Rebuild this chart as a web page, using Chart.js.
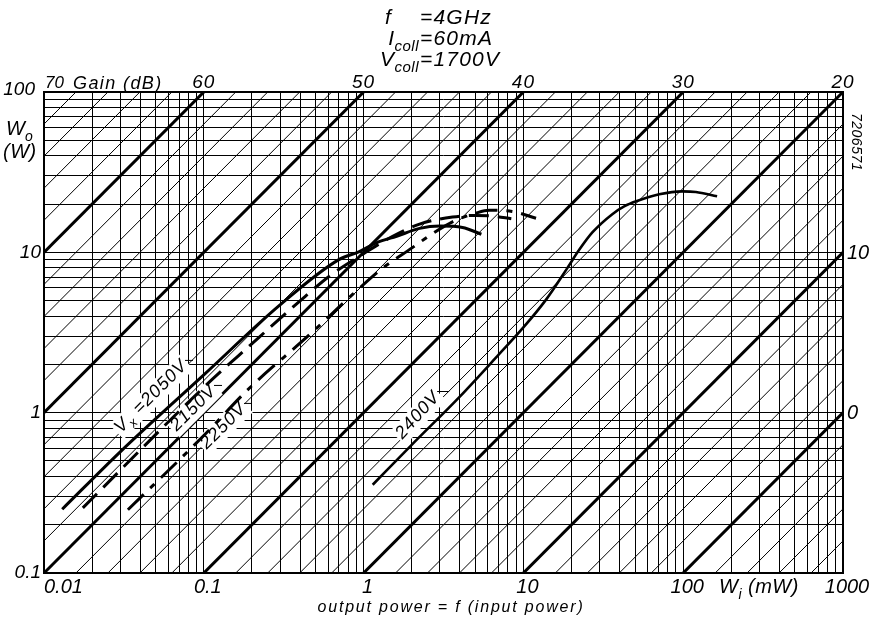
<!DOCTYPE html>
<html>
<head>
<meta charset="utf-8">
<script src="https://cdn.jsdelivr.net/npm/chart.js@4.4.1/dist/chart.umd.min.js"></script>
<style>
  html, body { margin: 0; padding: 0; background: #fff; }
</style>
</head>
<body>
<canvas id="gainChart" width="879" height="620"></canvas>
<script>
// input power Wi (mW) and output power Wo (W)
const wi2050 = [0.013, 0.03, 0.1, 0.3, 0.7, 0.94, 1.21, 1.61, 2.24, 3.0, 4.16, 5.46];
const wo2050 = [0.25, 0.57, 1.72, 4.7, 9.0, 10.1, 11.5, 12.6, 14.1, 14.6, 14.3, 12.96];

const wi2150 = [0.0175, 0.1045, 0.194, 0.43, 0.61, 1.0, 1.5, 2.24, 3.6, 5.0, 6.5, 8.4];
const wo2150 = [0.255, 1.5, 2.62, 5.3, 7.1, 9.8, 12.5, 15.0, 16.6, 17.0, 16.8, 16.2];

const wi2250 = [0.0335, 0.1, 0.194, 0.46, 0.853, 1.3, 2.02, 2.66, 3.6, 5.0, 6.1, 8.5, 12.0];
const wo2250 = [0.248, 0.72, 1.43, 3.07, 5.46, 7.9, 10.7, 12.96, 15.5, 17.5, 18.3, 18.0, 16.3];

const wi2400 = [1.14, 2, 4, 7, 10, 13.9, 18.6, 22.4, 27.0, 36.0, 43.0, 50.8, 70.8, 98.6, 120, 163];
const wo2400 = [0.355, 0.63, 1.26, 2.3, 3.4, 5.09, 7.83, 10.4, 13.3, 17.3, 19.4, 20.8, 23.0, 24.0, 23.8, 22.4];

// axes
const wiTicks = [0.01, 0.1, 1, 10, 100, 1000];
const wiTickLabels = ['0.01', '0.1', '1', '10', '100', '1000'];
const gainTopLabels = ['70', '60', '50', '40', '30', '20'];   // gain where the top edge meets each decade
const woTicks = [0.1, 1, 10, 100];
const woTickLabels = ['0.1', '1', '10', '100'];
const gainRightTicks = [1, 10];
const gainRightLabels = ['0', '10'];

// constant gain lines (dB), every 2 dB, heavy every 10 dB
const gainMin = -8, gainMax = 70, gainStep = 2;

const gridSteps = [1, 2, 3, 4, 5, 6, 7, 8, 9];
const xGrid = [0.01, 0.1, 1, 10, 100].flatMap(d => gridSteps.map(s => +(d * s).toPrecision(3))).concat([1000]);
const yGrid = [0.1, 1, 10].flatMap(d => gridSteps.map(s => +(d * s).toPrecision(3))).concat([100]);

const FONT = '"Liberation Sans", Arial, sans-serif';

function pts(xs, ys) {
    return xs.map((x, i) => ({ x: x, y: ys[i] }));
}

function setFont(ctx, size, spacing) {
    ctx.font = 'italic ' + size + 'px ' + FONT;
    ctx.letterSpacing = (spacing || 0) + 'px';
}

// text made of parts, some of them subscripts
function richWidth(ctx, parts, size, spacing) {
    let w = 0;
    for (const p of parts) {
        setFont(ctx, p.sub ? Math.round(size * 0.72) : size, spacing);
        w += ctx.measureText(p.t).width;
    }
    return w;
}

function richText(ctx, x, y, parts, size, spacing) {
    let cx = x;
    for (const p of parts) {
        setFont(ctx, p.sub ? Math.round(size * 0.72) : size, spacing);
        ctx.fillText(p.t, cx, y + (p.sub ? size * 0.28 : 0));
        cx += ctx.measureText(p.t).width;
    }
    return cx - x;
}

function slantLabel(ctx, px, py, parts, size, deg, leader) {
    const a = deg * Math.PI / 180;
    const w = richWidth(ctx, parts, size, 1);
    ctx.save();
    ctx.translate(px, py);
    ctx.rotate(a);
    ctx.fillStyle = '#fff';
    ctx.fillRect(-2, -size * 0.82, w + 4, size * 1.15);
    ctx.fillStyle = '#000';
    ctx.textBaseline = 'alphabetic';
    ctx.textAlign = 'left';
    richText(ctx, 0, 0, parts, size, 1);
    ctx.restore();
    // short leader towards the curve
    const lx = w + 2, ly = -size * 0.36;
    const ex = px + lx * Math.cos(a) - ly * Math.sin(a);
    const ey = py + lx * Math.sin(a) + ly * Math.cos(a);
    ctx.save();
    ctx.strokeStyle = '#000';
    ctx.lineWidth = 1;
    ctx.beginPath();
    ctx.moveTo(ex, ey);
    ctx.lineTo(ex + leader, ey);
    ctx.stroke();
    ctx.restore();
}

const sheetDecor = {
    id: 'sheetDecor',
    beforeDatasetsDraw(chart) {
        const { ctx, chartArea: a, scales: { x, y } } = chart;
        ctx.save();
        ctx.beginPath();
        ctx.rect(a.left, a.top, a.right - a.left, a.bottom - a.top);
        ctx.clip();
        ctx.strokeStyle = '#000';
        for (let g = gainMin; g <= gainMax; g += gainStep) {
            const k = Math.pow(10, g / 10) / 1000;   // Wo[W] = k * Wi[mW]
            ctx.lineWidth = g % 10 === 0 ? 3 : 1;
            ctx.beginPath();
            ctx.moveTo(x.getPixelForValue(0.001), y.getPixelForValue(0.001 * k));
            ctx.lineTo(x.getPixelForValue(10000), y.getPixelForValue(10000 * k));
            ctx.stroke();
        }
        // curve labels
        slantLabel(ctx, x.getPixelForValue(0.0303), y.getPixelForValue(0.74),
            [{ t: 'V' }, { t: 'x', sub: true }, { t: ' =2050V' }], 18, -45, 8);
        slantLabel(ctx, x.getPixelForValue(0.0678), y.getPixelForValue(0.76),
            [{ t: '2150V' }], 18, -45, 8);
        slantLabel(ctx, x.getPixelForValue(0.1045), y.getPixelForValue(0.587),
            [{ t: '2250V' }], 18, -45, 8);
        slantLabel(ctx, x.getPixelForValue(1.75), y.getPixelForValue(0.678),
            [{ t: '2400V' }], 18, -48, 12);
        ctx.restore();
    },
    afterDraw(chart) {
        const { ctx, chartArea: a, scales: { x, y } } = chart;
        ctx.save();
        ctx.strokeStyle = '#000';
        ctx.lineWidth = 2;
        ctx.strokeRect(a.left, a.top, a.right - a.left, a.bottom - a.top);

        ctx.fillStyle = '#000';
        ctx.textBaseline = 'alphabetic';

        // bottom: input power
        setFont(ctx, 20, 0);
        wiTicks.forEach((v, i) => {
            const px = x.getPixelForValue(v);
            ctx.textAlign = i === 0 ? 'left' : 'center';
            ctx.fillText(wiTickLabels[i], i === 0 ? px : px + 4, a.bottom + 20);
        });
        ctx.textAlign = 'left';
        richText(ctx, 719, a.bottom + 20, [{ t: 'W' }, { t: 'i', sub: true }, { t: ' (mW)' }], 20, 0.5);

        // top: gain
        wiTicks.forEach((v, i) => {
            const px = x.getPixelForValue(v);
            setFont(ctx, i === 0 ? 17 : 19, i === 0 ? 0 : 1);
            ctx.textAlign = i === 0 ? 'left' : 'center';
            ctx.fillText(gainTopLabels[i], i === 0 ? px + 1 : px, a.top - 4);
        });
        setFont(ctx, 18, 1.4);
        ctx.textAlign = 'left';
        ctx.fillText('Gain (dB)', 73, a.top - 3);

        // left: output power
        setFont(ctx, 19, 0);
        ctx.textAlign = 'right';
        ctx.textBaseline = 'middle';
        woTicks.forEach((v, i) => {
            const py = y.getPixelForValue(v);
            ctx.fillText(woTickLabels[i], v === 100 ? 35 : 41, v === 100 ? py - 2 : py);
        });
        ctx.textBaseline = 'alphabetic';
        ctx.textAlign = 'left';
        richText(ctx, 6, 135, [{ t: 'W' }, { t: 'o', sub: true }], 20, 0);
        setFont(ctx, 20, 0.5);
        ctx.fillText('(W)', 3, 158);

        // right: gain
        setFont(ctx, 20, 0);
        ctx.textBaseline = 'middle';
        gainRightTicks.forEach((v, i) => {
            ctx.fillText(gainRightLabels[i], a.right + 4, y.getPixelForValue(v) + 1);
        });

        // drawing number, vertical
        ctx.save();
        ctx.translate(852, 113);
        ctx.rotate(Math.PI / 2);
        setFont(ctx, 14, 0.5);
        ctx.textBaseline = 'alphabetic';
        ctx.fillText('7206571', 0, 0);
        ctx.restore();

        // operating conditions
        ctx.textBaseline = 'alphabetic';
        const eqX = 420;
        const rows = [
            { left: [{ t: 'f' }], right: '=4GHz', base: 24 },
            { left: [{ t: 'I' }, { t: 'coll', sub: true }], right: '=60mA', base: 45 },
            { left: [{ t: 'V' }, { t: 'coll', sub: true }], right: '=1700V', base: 66 }
        ];
        rows.forEach(r => {
            const lw = r.left.length === 1 ? 34 : richWidth(ctx, r.left, 21, 0.5);
            ctx.textAlign = 'left';
            richText(ctx, eqX - lw - 1, r.base, r.left, 21, 0.5);
            setFont(ctx, 21, 1.2);
            ctx.fillText(r.right, eqX, r.base);
        });

        // caption
        setFont(ctx, 16, 1.8);
        ctx.textAlign = 'center';
        ctx.fillText('output power = f (input power)', 451, 612);
        ctx.restore();
    }
};

const gridColor = '#000';

new Chart(document.getElementById('gainChart'), {
    type: 'line',
    data: {
        datasets: [
            { label: 'Vx = 2050V', data: pts(wi2050, wo2050), borderColor: '#000', borderWidth: 3 },
            { label: 'Vx = 2150V', data: pts(wi2150, wo2150), borderColor: '#000', borderWidth: 3, borderDash: [20, 9] },
            { label: 'Vx = 2250V', data: pts(wi2250, wo2250), borderColor: '#000', borderWidth: 3, borderDash: [22, 9, 6, 9] },
            { label: 'Vx = 2400V', data: pts(wi2400, wo2400), borderColor: '#000', borderWidth: 2.6 }
        ]
    },
    options: {
        responsive: false,
        animation: false,
        layout: { padding: { top: 92, right: 36, left: 0, bottom: 0 } },
        elements: {
            point: { radius: 0 },
            line: { cubicInterpolationMode: 'monotone', fill: false }
        },
        plugins: { legend: { display: false }, tooltip: { enabled: false } },
        scales: {
            x: {
                type: 'logarithmic',
                min: 0.01,
                max: 1000,
                afterBuildTicks: s => { s.ticks = xGrid.map(v => ({ value: v })); },
                afterFit: s => { s.height = 47; },
                ticks: { display: false },
                grid: { color: gridColor, lineWidth: 1, drawTicks: false },
                border: { display: false }
            },
            y: {
                type: 'logarithmic',
                min: 0.1,
                max: 100,
                afterBuildTicks: s => { s.ticks = yGrid.map(v => ({ value: v })); },
                afterFit: s => { s.width = 44; },
                ticks: { display: false },
                grid: { color: gridColor, lineWidth: 1, drawTicks: false },
                border: { display: false }
            }
        }
    },
    plugins: [sheetDecor]
});
</script>
</body>
</html>
